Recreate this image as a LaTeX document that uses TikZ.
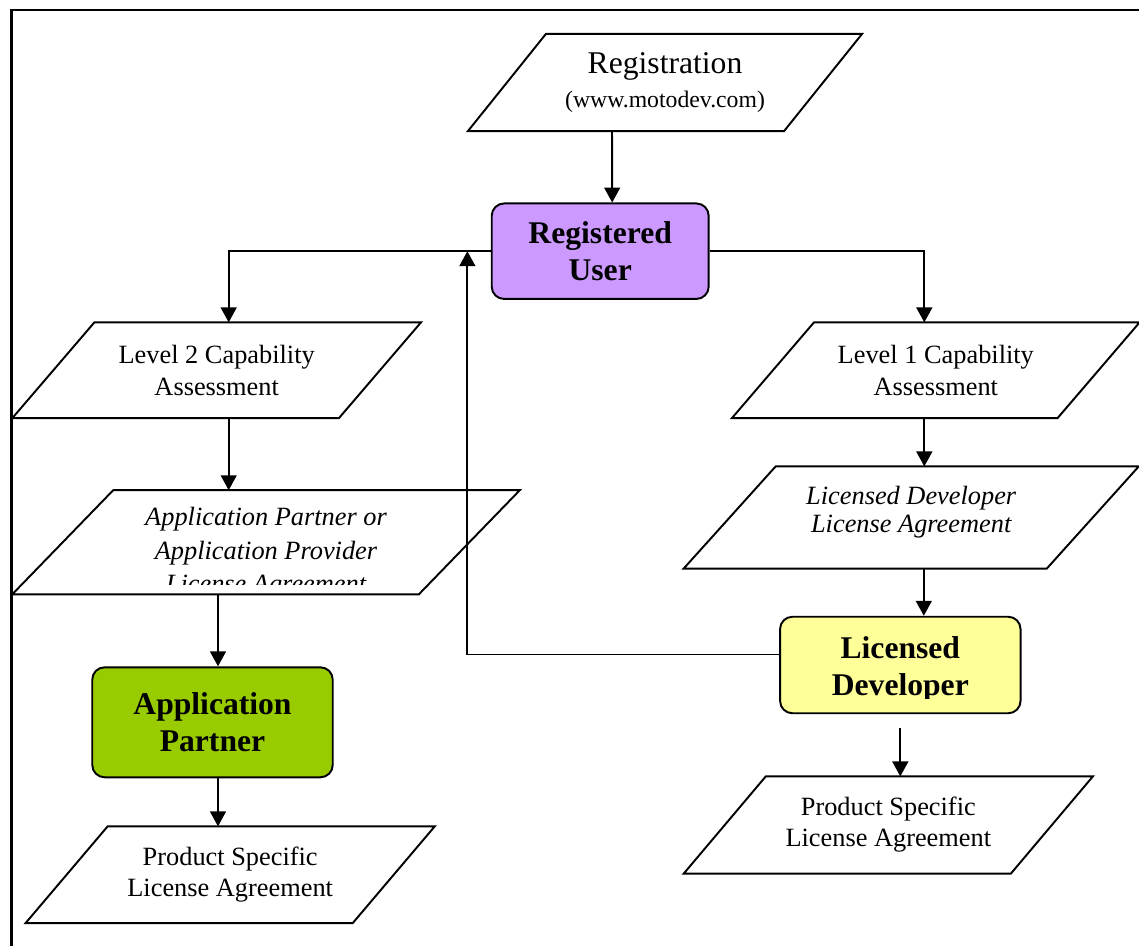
\documentclass[tikz,border=0pt]{standalone}
\usepackage{fontspec}
\setmainfont{Liberation Serif}
\usepackage{tikz}
\usetikzlibrary{arrows.meta, positioning, calc}
\definecolor{ruPurple}{HTML}{CC99FF}
\definecolor{apGreen}{HTML}{99CC00}
\definecolor{ldYellow}{HTML}{FFFF99}

\begin{document}
\begin{tikzpicture}[x=0.02cm, y=-0.02cm,
      para/.style={inner sep=0pt, align=center, font=\fontsize{15}{18}\selectfont},
      edge line/.style={line width=1.1pt, line join=miter},
      ubox/.style={draw, line width=1.1pt, rounded corners=7pt, inner sep=0pt,
        align=center, font=\bfseries\fontsize{18}{21}\selectfont},
      arr/.style={line width=1.1pt, -{Triangle[length=8.5pt,width=9pt]}}]
    \useasboundingbox (0,0) rectangle (1139,946);
    % frame
    \begin{scope}
      \clip (0,0) rectangle (1139,946);
      \draw[line width=1.3pt] (11.5,10) rectangle (1160,960);
    \end{scope}
    % registration
    \node[para, minimum width=7.87cm, minimum height=1.93cm, font=\fontsize{18}{19}\selectfont]
      (reg) at (665,82.5) {Registration\\{\fontsize{13.5}{15}\selectfont (www.motodev.com)}};
    \node[ubox, fill=ruPurple, minimum width=4.34cm, minimum height=1.91cm]
      (ru) at (600.2,251.2) {Registered\\User};
    % level 2 branch
    \node[para, minimum width=8.16cm, minimum height=1.9cm]
      (lv2) at (216.7,370.2) {Level 2 Capability\\Assessment};
    \node[para, minimum width=10.14cm, minimum height=2.07cm] (aplic) at (266,542.3) {};
    \begin{scope}
      \clip (0,480) rectangle (600,584.5);
      \node[para, font=\itshape\fontsize{15}{19}\selectfont] (aplictxt)
        at ([yshift=-0.21cm]aplic.center) {Application Partner or\\Application Provider\\License Agreement};
    \end{scope}
    \node[ubox, fill=apGreen, minimum width=4.81cm, minimum height=2.2cm]
      (ap) at (212.5,722.3) {Application\\Partner};
    \node[para, minimum width=8.17cm, minimum height=1.92cm, font=\fontsize{15}{17.6}\selectfont]
      (ps1) at (230.2,874.7) {Product Specific\\License Agreement};
    % level 1 branch
    \node[para, minimum width=8.14cm, minimum height=1.9cm]
      (lv1) at (935.8,370.2) {Level 1 Capability\\Assessment};
    \node[para, minimum width=9.09cm, minimum height=2.03cm] (ldlic) at (911.2,517.5) {};
    \node[para, font=\itshape\fontsize{15}{16}\selectfont] (ldlictxt)
      at ([yshift=0.1cm]ldlic.center) {Licensed Developer\\License Agreement};
    \node[ubox, fill=ldYellow, minimum width=4.81cm, minimum height=1.93cm]
      (ld) at (900.3,665) {};
    \begin{scope}
      \clip (780,600) rectangle (1021,698);
      \node[inner sep=0pt, align=center, font=\bfseries\fontsize{18}{21}\selectfont]
        (ldtxt) at (900.3,669) {Licensed\\Developer};
    \end{scope}
    \node[para, minimum width=8.17cm, minimum height=1.93cm, font=\fontsize{15}{17.6}\selectfont]
      (ps2) at (888.3,825) {Product Specific\\License Agreement};
    % parallelogram outlines
    \foreach \n/\s in {reg/78, lv2/82, lv1/82, aplic/101, ldlic/92, ps1/82, ps2/82}
      \draw[edge line] (\n.south west) -- ($(\n.north west)+(\s,0)$) -- (\n.north east)
        -- ($(\n.south east)+(-\s,0)$) -- cycle;
    % connectors
    \coordinate (l2col) at ([xshift=0.24cm]lv2.north);
    \coordinate (l1col) at ([xshift=-0.23cm]lv1.north);
    \coordinate (apcol) at ([xshift=0.11cm]ap.north);
    \coordinate (ldcol) at ([xshift=0.47cm]ld.north);
    \coordinate (fb) at ([yshift=0.21cm]ld.west);
    \coordinate (fbtop) at ($(ru.west)+(-23.4,0)$);
    \draw[arr] ([xshift=-1.06cm]reg.south) -- ([xshift=0.24cm]ru.north);
    \draw[arr] (ru.west) -| (l2col);
    \draw[arr] (ru.east) -| (l1col);
    \draw[arr] (l2col |- lv2.south) -- (l2col |- aplic.north);
    \draw[arr] (apcol |- aplic.south) -- (apcol);
    \draw[arr] (apcol |- ap.south) -- (apcol |- ps1.north);
    \draw[arr] (l1col |- lv1.south) -- (l1col |- ldlic.north);
    \draw[arr] (ldcol |- ldlic.south) -- (ldcol);
    \draw[arr] ([yshift=-0.27cm]ld.south) -- (ld.south |- ps2.north);
    \draw[arr] (fb) -| (fbtop);
  \end{tikzpicture}
\end{document}
